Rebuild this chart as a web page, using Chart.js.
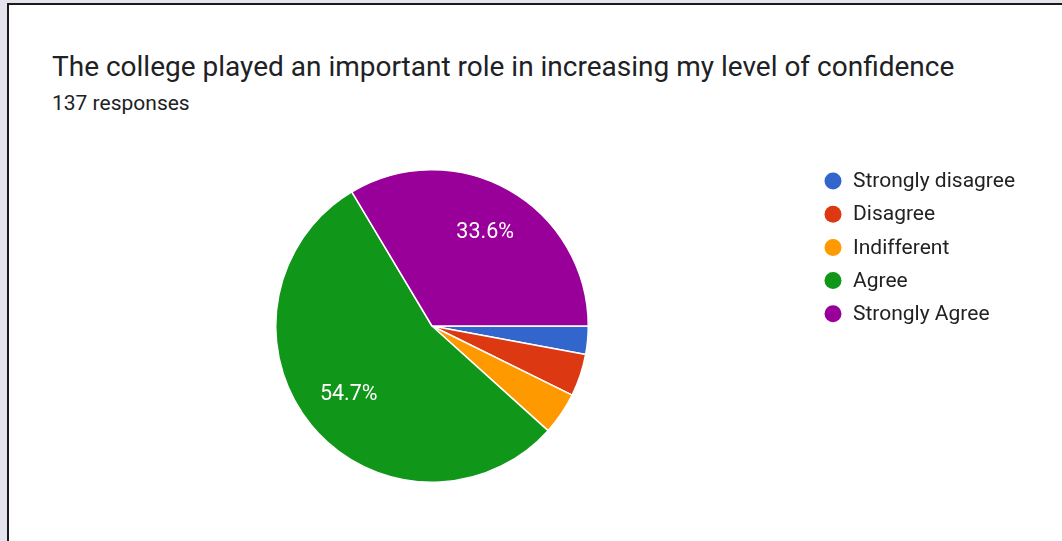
<!DOCTYPE html>
<html>
<head>
<meta charset="utf-8">
<script src="https://cdn.jsdelivr.net/npm/chart.js@4.4.1/dist/chart.umd.min.js"></script>
<style>
    html, body { margin: 0; padding: 0; }
    body {
        width: 1062px;
        height: 541px;
        overflow: hidden;
        background: #e6e2ee;
        position: relative;
        font-family: Roboto, "Noto Sans", sans-serif;
    }
    .card {
        position: absolute;
        left: 7px;
        top: 3px;
        width: 1100px;
        height: 600px;
        background: #fff;
        border-left: 2px solid #1a1a1a;
        border-top: 2px solid #1a1a1a;
    }
    .title {
        position: absolute;
        left: 52px;
        top: 53px;
        font-size: 28px;
        line-height: 28px;
        color: #202124;
        white-space: nowrap;
    }
    .subtitle {
        position: absolute;
        left: 52px;
        top: 93px;
        font-size: 21px;
        line-height: 21px;
        color: #202124;
        white-space: nowrap;
    }
    #chart {
        position: absolute;
        left: 0;
        top: 0;
    }
</style>
</head>
<body>
<div class="card"></div>
<div class="title">The college played an important role in increasing my level of confidence</div>
<div class="subtitle">137 responses</div>
<canvas id="chart" width="1062" height="541"></canvas>

<script>
// data (137 responses)
const labels = ["Strongly disagree", "Disagree", "Indifferent", "Agree", "Strongly Agree"];
const counts = [4, 6, 6, 75, 46];
const colors = ["#3366cc", "#dc3912", "#ff9900", "#109618", "#990099"];

// percentage labels inside the big slices, like google forms does
const sliceLabels = {
    id: 'sliceLabels',
    afterDatasetsDraw(chart) {
        const ctx = chart.ctx;
        const meta = chart.getDatasetMeta(0);
        const total = counts.reduce((a, b) => a + b, 0);
        ctx.save();
        ctx.fillStyle = '#ffffff';
        ctx.font = '21.5px Roboto, "Noto Sans", sans-serif';
        ctx.textAlign = 'center';
        ctx.textBaseline = 'middle';
        meta.data.forEach(function (arc, i) {
            const pct = counts[i] / total * 100;
            if (pct < 10) { return; }
            const mid = (arc.startAngle + arc.endAngle) / 2;
            const r = arc.outerRadius * 0.69;
            ctx.fillText(pct.toFixed(1) + '%', arc.x + Math.cos(mid) * r, arc.y + Math.sin(mid) * r);
        });
        ctx.restore();
    }
};

// legend on the right with round dots
const dotLegend = {
    id: 'dotLegend',
    afterDraw(chart) {
        const ctx = chart.ctx;
        const x = 833;
        let y = 181;
        ctx.save();
        ctx.font = '21px Roboto, "Noto Sans", sans-serif';
        ctx.textBaseline = 'middle';
        chart.data.labels.forEach(function (label, i) {
            ctx.beginPath();
            ctx.arc(x, y, 8.5, 0, Math.PI * 2);
            ctx.fillStyle = chart.data.datasets[0].backgroundColor[i];
            ctx.fill();
            ctx.fillStyle = '#222222';
            ctx.fillText(label, 853, y + 1);
            y += 33.2;
        });
        ctx.restore();
    }
};

const ctx = document.getElementById('chart').getContext('2d');
const myChart = new Chart(ctx, {
    type: 'pie',
    data: {
        labels: labels,
        datasets: [{
            data: counts,
            backgroundColor: colors,
            borderColor: '#ffffff',
            borderWidth: 1.5
        }]
    },
    options: {
        responsive: false,
        animation: false,
        rotation: 90,
        layout: {
            padding: { left: 275, right: 473, top: 168, bottom: 57 }
        },
        plugins: {
            legend: { display: false },
            tooltip: { enabled: false }
        }
    },
    plugins: [sliceLabels, dotLegend]
});
</script>
</body>
</html>
